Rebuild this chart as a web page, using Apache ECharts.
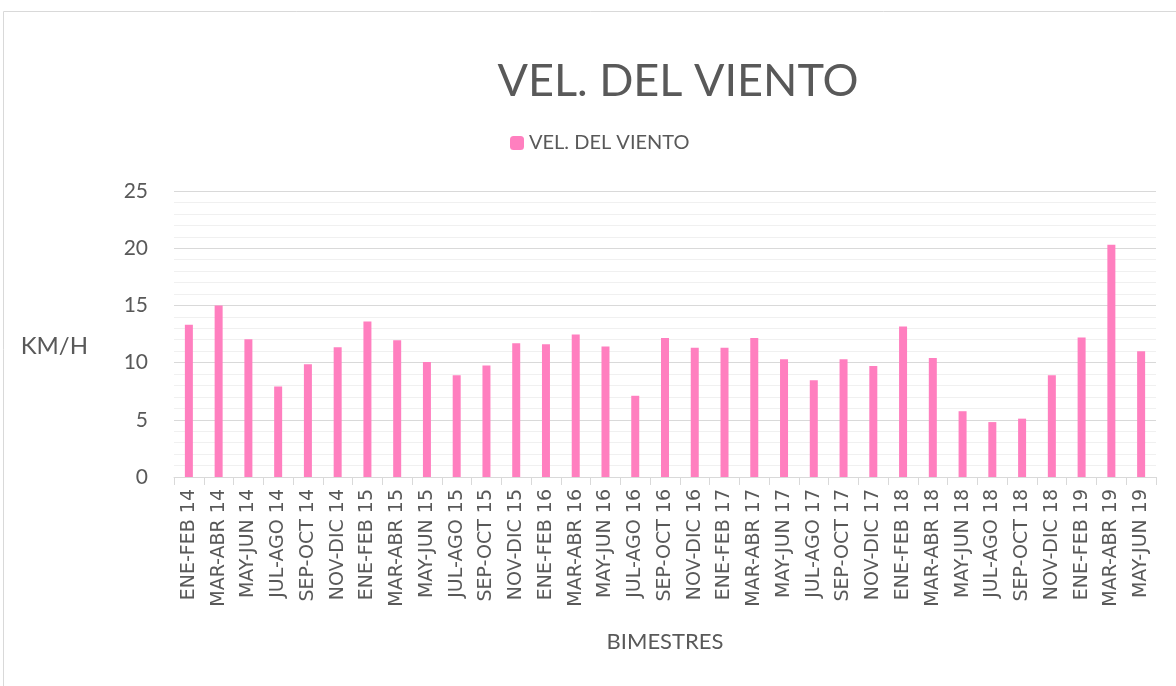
<!DOCTYPE html>
<html>
<head>
<meta charset="utf-8">
<script src="https://cdn.jsdelivr.net/npm/echarts@6/dist/echarts.min.js"></script>
<style>
  html, body { margin: 0; padding: 0; background: #fff; }
  #chart { width: 1176px; height: 686px; }
</style>
</head>
<body>
<div id="chart"></div>
<script>
// bimestres
const categories = [
  "ENE-FEB 14", "MAR-ABR 14", "MAY-JUN 14", "JUL-AGO 14", "SEP-OCT 14", "NOV-DIC 14",
  "ENE-FEB 15", "MAR-ABR 15", "MAY-JUN 15", "JUL-AGO 15", "SEP-OCT 15", "NOV-DIC 15",
  "ENE-FEB 16", "MAR-ABR 16", "MAY-JUN 16", "JUL-AGO 16", "SEP-OCT 16", "NOV-DIC 16",
  "ENE-FEB 17", "MAR-ABR 17", "MAY-JUN 17", "JUL-AGO 17", "SEP-OCT 17", "NOV-DIC 17",
  "ENE-FEB 18", "MAR-ABR 18", "MAY-JUN 18", "JUL-AGO 18", "SEP-OCT 18", "NOV-DIC 18",
  "ENE-FEB 19", "MAR-ABR 19", "MAY-JUN 19"
];

// km/h
const windSpeed = [
  13.3, 15.0, 12.05, 7.9, 9.85, 11.35,
  13.6, 11.95, 10.05, 8.9, 9.75, 11.7,
  11.6, 12.45, 11.4, 7.1, 12.15, 11.3,
  11.3, 12.15, 10.3, 8.45, 10.3, 9.7,
  13.15, 10.4, 5.75, 4.8, 5.1, 8.9,
  12.2, 20.3, 11.0
];

const yTicks = { min: 0, max: 25, interval: 5 };

const textColor = "#595959";
const pink = "#FF7FBF";
const font = "Lato";

const chart = echarts.init(document.getElementById("chart"));

chart.setOption({
  animation: false,
  graphic: [
    {
      type: "rect",
      shape: { x: 3.5, y: 11.5, width: 1200, height: 700 },
      style: { fill: "none", stroke: "#d9d9d9", lineWidth: 1 },
      silent: true,
    },
  ],
  title: {
    text: "VEL. DEL VIENTO",
    left: 673,
    top: 54,
    textAlign: "center",
    textStyle: {
      fontFamily: font,
      fontSize: 45,
      fontWeight: "normal",
      color: textColor,
    },
  },
  legend: {
    top: 128,
    left: 505,
    itemWidth: 14,
    itemHeight: 14,
    itemGap: 6,
    textStyle: {
      fontFamily: font,
      fontSize: 20,
      color: textColor,
    },
    data: ["VEL. DEL VIENTO"],
  },
  grid: { left: 174, right: 20, top: 191, bottom: 209 },
  xAxis: {
    type: "category",
    data: categories,
    name: "BIMESTRES",
    nameLocation: "middle",
    nameGap: 154,
    nameTextStyle: {
      fontFamily: font,
      fontSize: 22,
      color: textColor,
    },
    axisLine: { lineStyle: { color: "#d9d9d9", width: 1 } },
    axisTick: { show: true, length: 8, lineStyle: { color: "#d9d9d9" } },
    axisLabel: {
      rotate: 90,
      interval: 0,
      margin: 12,
      fontFamily: "DejaVu Sans",
      fontSize: 19,
      color: textColor,
    },
  },
  yAxis: {
    type: "value",
    min: yTicks.min,
    max: yTicks.max,
    interval: yTicks.interval,
    name: "KM/H",
    nameLocation: "middle",
    nameRotate: 0,
    nameGap: 86,
    nameTextStyle: {
      fontFamily: font,
      fontSize: 24,
      color: textColor,
      verticalAlign: "top",
    },
    axisLine: { show: false },
    axisTick: { show: false },
    axisLabel: {
      margin: 26,
      fontFamily: font,
      fontSize: 21,
      color: textColor,
    },
    splitLine: { lineStyle: { color: "#d9d9d9", width: 1 } },
    minorTick: { show: false, splitNumber: 5 },
    minorSplitLine: { show: true, lineStyle: { color: "#f0f0f0", width: 1 } },
  },
  series: [
    {
      name: "VEL. DEL VIENTO",
      type: "bar",
      data: windSpeed,
      barWidth: 8,
      itemStyle: { color: pink },
    },
  ],
});
</script>
</body>
</html>
